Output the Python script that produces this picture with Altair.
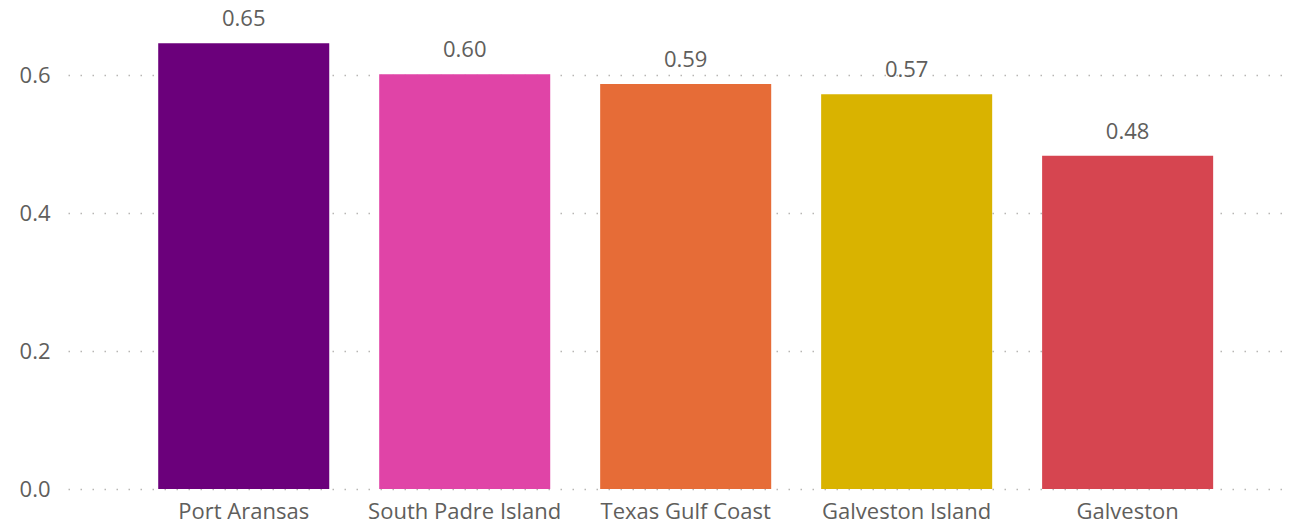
import altair as alt
import pandas as pd

places = ["Port Aransas", "South Padre Island", "Texas Gulf Coast", "Galveston Island", "Galveston"]
values = [0.646, 0.601, 0.587, 0.572, 0.483]
colors = ["#6B007B", "#E044A7", "#E66C37", "#D9B300", "#D64550"]

df = pd.DataFrame({"place": places, "value": values})

FONT = "Open Sans"

x = alt.X("place:N", sort=places, title=None,
          scale=alt.Scale(paddingInner=0.226, paddingOuter=0.378, align=0.54),
          axis=alt.Axis(labelAngle=0, labelFontSize=22, labelColor="#605E5C", labelFont=FONT,
                        domain=False, ticks=False, labelPadding=12, labelLimit=400,
                        labelOverlap=False))
y = alt.Y("value:Q", title=None,
          scale=alt.Scale(domain=[0, 0.7], nice=False),
          axis=alt.Axis(values=[0, 0.2, 0.4, 0.6], format=".1f", labelFontSize=22,
                        labelColor="#605E5C", labelFont=FONT, domain=False, ticks=False,
                        labelPadding=18, grid=True, gridColor="#B8B6B4",
                        gridDash=[1.5, 10.5], gridWidth=1.5))

bars = alt.Chart(df).mark_bar().encode(
    x=x, y=y,
    color=alt.Color("place:N", sort=places, scale=alt.Scale(domain=places, range=colors), legend=None),
)
labels = alt.Chart(df).mark_text(dy=-24, fontSize=22, color="#605E5C", font=FONT).encode(
    x=alt.X("place:N", sort=places), y="value:Q", text=alt.Text("value:Q", format=".2f")
)

chart = (bars + labels).properties(
    width=1222, height=483,
    autosize=alt.AutoSizeParams(type="none"),
    padding={"left": 68, "top": 6, "right": 8, "bottom": 41},
).configure_view(stroke=None)

chart.save("out.html", embed_options={"renderer": "svg", "actions": False})
